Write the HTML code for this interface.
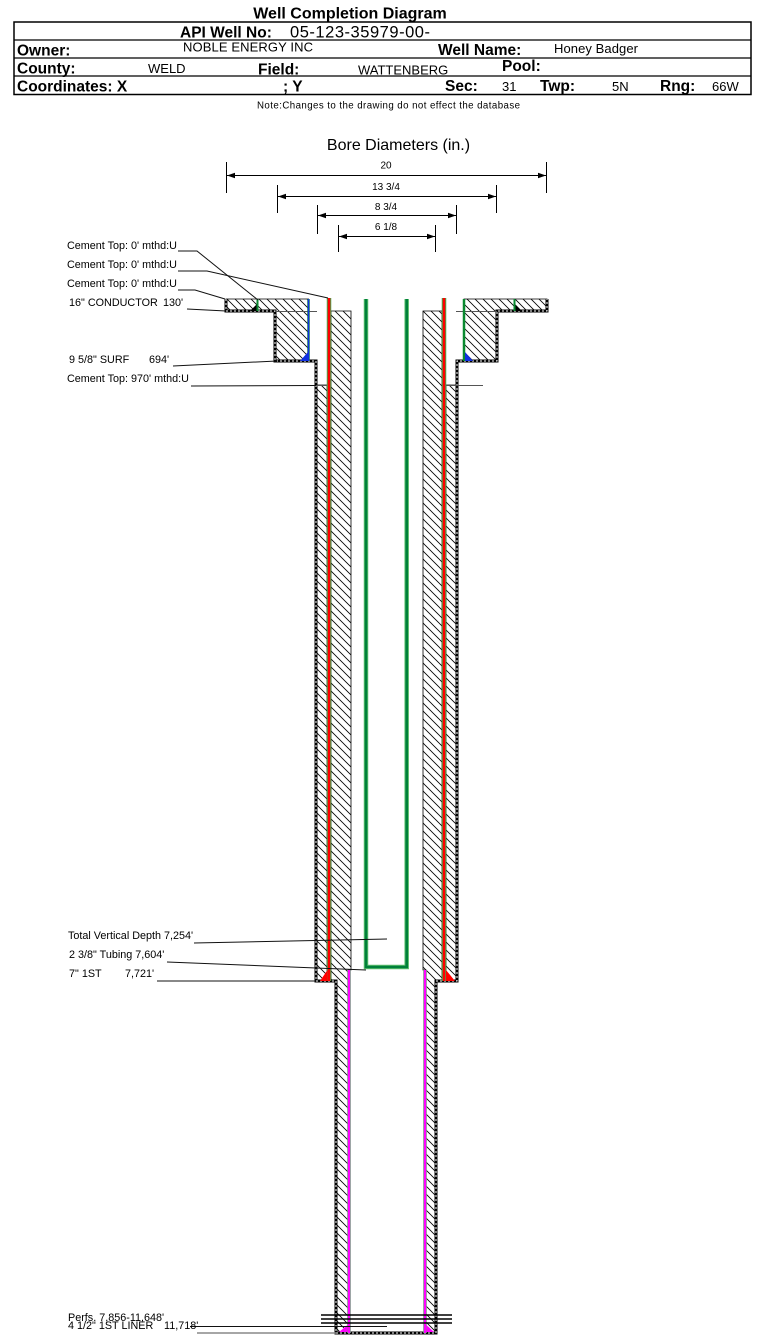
<!DOCTYPE html>
<html><head><meta charset="utf-8"><style>
html,body{margin:0;padding:0;background:#fff;}
svg{display:block;}
text{font-family:"Liberation Sans",Arial,sans-serif;fill:#000;}
.b{font-weight:bold;font-size:15.5px;}
.v{font-size:13px;}
.s{font-size:10.8px;}
.d{font-size:10px;}
</style></head><body>
<svg width="759" height="1335" viewBox="0 0 759 1335" xmlns="http://www.w3.org/2000/svg">
<defs>
<pattern id="h" patternUnits="userSpaceOnUse" width="8" height="8">
<path d="M0,0 L8,8 M-1,7 L1,9 M7,-1 L9,1" stroke="#000" stroke-width="0.8"/>
</pattern>
</defs>
<rect width="759" height="1335" fill="#fff"/>

<!-- Header -->
<text x="350" y="18.5" text-anchor="middle" style="font-weight:bold;font-size:16px">Well Completion Diagram</text>
<rect x="14" y="22" width="737" height="72.5" fill="none" stroke="#000" stroke-width="1.5"/>
<line x1="14" y1="40" x2="751" y2="40" stroke="#000" stroke-width="1.3"/>
<line x1="14" y1="58" x2="751" y2="58" stroke="#000" stroke-width="1.3"/>
<line x1="14" y1="76" x2="751" y2="76" stroke="#000" stroke-width="1.3"/>

<text class="b" x="180" y="37.5">API Well No:</text>
<text x="290" y="37.5" style="font-size:16.5px" textLength="140">05-123-35979-00-</text>

<text class="b" x="17" y="55.5">Owner:</text>
<text class="v" x="183" y="51.5" textLength="130">NOBLE ENERGY INC</text>
<text class="b" x="438" y="55">Well Name:</text>
<text class="v" x="554" y="53" textLength="84">Honey Badger</text>

<text class="b" x="17" y="73.5">County:</text>
<text class="v" x="148" y="73">WELD</text>
<text class="b" x="258" y="74.5">Field:</text>
<text class="v" x="358" y="74.5">WATTENBERG</text>
<text class="b" x="502" y="71">Pool:</text>

<text class="b" x="17" y="91.5">Coordinates: X</text>
<text class="b" x="283" y="91.5">; Y</text>
<text class="b" x="445" y="91">Sec:</text>
<text class="v" x="502" y="91">31</text>
<text class="b" x="540" y="91">Twp:</text>
<text class="v" x="612" y="91">5N</text>
<text class="b" x="660" y="91">Rng:</text>
<text class="v" x="712" y="91">66W</text>

<text x="257" y="108.5" style="font-size:9.7px" textLength="263">Note:Changes to the drawing do not effect the database</text>

<!-- Bore diameters -->
<text x="398.5" y="150" text-anchor="middle" style="font-size:16px">Bore Diameters (in.)</text>
<g stroke="#000" stroke-width="1">
<line x1="226.5" y1="162" x2="226.5" y2="193"/><line x1="546.5" y1="162" x2="546.5" y2="193"/>
<line x1="227" y1="175.5" x2="546" y2="175.5"/>
<line x1="277.5" y1="185" x2="277.5" y2="213"/><line x1="496.5" y1="185" x2="496.5" y2="213"/>
<line x1="278" y1="196.5" x2="496" y2="196.5"/>
<line x1="317.5" y1="205" x2="317.5" y2="234"/><line x1="456.5" y1="205" x2="456.5" y2="234"/>
<line x1="318" y1="215.5" x2="456" y2="215.5"/>
<line x1="338.5" y1="225" x2="338.5" y2="252"/><line x1="435.5" y1="225" x2="435.5" y2="252"/>
<line x1="339" y1="236.5" x2="435" y2="236.5"/>
</g>
<g fill="#000">
<polygon points="227,175.5 235,172.8 235,178.2"/><polygon points="546,175.5 538,172.8 538,178.2"/>
<polygon points="278,196.5 286,193.8 286,199.2"/><polygon points="496,196.5 488,193.8 488,199.2"/>
<polygon points="318,215.5 326,212.8 326,218.2"/><polygon points="456,215.5 448,212.8 448,218.2"/>
<polygon points="339,236.5 347,233.8 347,239.2"/><polygon points="435,236.5 427,233.8 427,239.2"/>
</g>
<text class="d" x="386" y="168.5" text-anchor="middle">20</text>
<text class="d" x="386" y="190" text-anchor="middle">13 3/4</text>
<text class="d" x="386" y="210" text-anchor="middle">8 3/4</text>
<text class="d" x="386" y="230" text-anchor="middle">6 1/8</text>

<!-- Hatched regions -->
<g fill="url(#h)" stroke="#000" stroke-width="0.8">
<polygon points="226,299 308.5,299 308.5,361 275,361 275,311 226,311"/>
<polygon points="464,299 547,299 547,311 497,311 497,361 464,361"/>
<polygon points="331,311 351,311 351,970 348,970 348,1333 336,1333 336,981 331,981"/>
<polygon points="316,385 327,385 327,981 316,981"/>
<polygon points="423,311 442,311 442,981 436,981 436,1333 426,1333 426,970 423,970"/>
<polygon points="446,385 457,385 457,981 446,981"/>
</g>

<!-- Dashed outline -->
<path d="M226,299 V311 H275 V361 H316 V981 H336 V1333 H436 V981 H457 V361 H497 V311 H547 V299" fill="none" stroke="#000" stroke-width="3"/>
<path d="M226,299 V311 H275 V361 H316 V981 H336 V1333 H436 V981 H457 V361 H497 V311 H547 V299" fill="none" stroke="#fff" stroke-width="1" stroke-dasharray="2 2"/>

<!-- depth marker lines -->
<g stroke="#555" stroke-width="1">
<line x1="275" y1="311.5" x2="317" y2="311.5"/>
<line x1="456" y1="311.5" x2="497" y2="311.5"/>
<line x1="316" y1="385.5" x2="331" y2="385.5"/>
<line x1="446" y1="385.5" x2="483" y2="385.5"/>
</g>

<!-- Conductor cement markers -->
<polygon points="250,311 257,311 257,304" fill="#000"/>
<line x1="257.5" y1="299" x2="257.5" y2="311" stroke="#0a8a30" stroke-width="2"/>
<polygon points="515,304 515,311 522,311" fill="#000"/>
<line x1="514.5" y1="299" x2="514.5" y2="311" stroke="#0a8a30" stroke-width="2"/>

<!-- surface casing -->
<line x1="308.5" y1="299" x2="308.5" y2="361" stroke="#0a8a30" stroke-width="2.5"/>
<line x1="308.5" y1="299" x2="308.5" y2="361" stroke="#1030e0" stroke-width="1.5"/>
<line x1="464" y1="299" x2="464" y2="361" stroke="#0a8a30" stroke-width="2.5"/>
<polygon points="300,361 308,361 308,352" fill="#1030e0"/>
<polygon points="465,352 465,361 473,361" fill="#1030e0"/>

<!-- 7" casing red -->
<line x1="329" y1="298" x2="329" y2="981" stroke="#3fae4f" stroke-width="4.5"/>
<line x1="329" y1="298" x2="329" y2="981" stroke="#ff0000" stroke-width="2.6"/>
<line x1="444" y1="298" x2="444" y2="981" stroke="#3fae4f" stroke-width="4.5"/>
<line x1="444" y1="298" x2="444" y2="981" stroke="#ff0000" stroke-width="2.6"/>
<polygon points="320,981 327.5,981 327.5,970" fill="#ff0000"/>
<polygon points="446,970 446,981 455,981" fill="#ff0000"/>

<!-- tubing -->
<path d="M366,299 V967 H406.7 V299" fill="none" stroke="#5cbf6c" stroke-width="4.5"/>
<path d="M366,299 V967 H406.7 V299" fill="none" stroke="#00803a" stroke-width="2.6"/>

<!-- liner magenta -->
<line x1="349" y1="970" x2="349" y2="1333" stroke="#5cbf6c" stroke-width="3.6"/>
<line x1="349" y1="970" x2="349" y2="1333" stroke="#ff00ff" stroke-width="2.4"/>
<line x1="425" y1="970" x2="425" y2="1333" stroke="#5cbf6c" stroke-width="3.6"/>
<line x1="425" y1="970" x2="425" y2="1333" stroke="#ff00ff" stroke-width="2.4"/>
<polygon points="339,1332 347.5,1332 347.5,1325" fill="#ff00ff"/>
<polygon points="426.5,1325 426.5,1332 434,1332" fill="#ff00ff"/>

<!-- perfs -->
<g stroke="#000" stroke-width="1.6">
<line x1="321" y1="1315" x2="452" y2="1315"/>
<line x1="321" y1="1319" x2="452" y2="1319"/>
<line x1="321" y1="1323" x2="452" y2="1323"/>
</g>

<!-- Leader lines -->
<g fill="none" stroke="#111" stroke-width="1">
<polyline points="178,251 197,251 258,300"/>
<polyline points="178,271 207,271 328,298"/>
<polyline points="178,290 195,290 225,299"/>
<line x1="187" y1="309" x2="226" y2="311"/>
<line x1="173" y1="366" x2="277" y2="361"/>
<line x1="191" y1="386" x2="316" y2="385.5"/>
<line x1="194" y1="943" x2="387" y2="939"/>
<line x1="167" y1="962" x2="366" y2="970"/>
<line x1="157" y1="981" x2="316" y2="981"/>
<line x1="190" y1="1326.5" x2="387" y2="1326.5"/>
</g>
<line x1="197" y1="1333" x2="336" y2="1333" stroke="#888" stroke-width="1.5"/>

<!-- Labels -->
<text class="s" x="67" y="249">Cement Top: 0' mthd:U</text>
<text class="s" x="67" y="268">Cement Top: 0' mthd:U</text>
<text class="s" x="67" y="287">Cement Top: 0' mthd:U</text>
<text class="s" x="69" y="306">16" CONDUCTOR</text>
<text class="s" x="163" y="306">130'</text>
<text class="s" x="69" y="363">9 5/8" SURF</text>
<text class="s" x="149" y="363">694'</text>
<text class="s" x="67" y="382">Cement Top: 970' mthd:U</text>

<text class="s" x="68" y="939">Total Vertical Depth 7,254'</text>
<text class="s" x="69" y="958">2 3/8" Tubing 7,604'</text>
<text class="s" x="69" y="977">7" 1ST</text>
<text class="s" x="125" y="977">7,721'</text>

<text class="s" x="68" y="1321">Perfs. 7,856-11,648'</text>
<text class="s" x="68" y="1329">4 1/2" 1ST LINER</text>
<text class="s" x="164" y="1329">11,718'</text>
</svg>
</body></html>
